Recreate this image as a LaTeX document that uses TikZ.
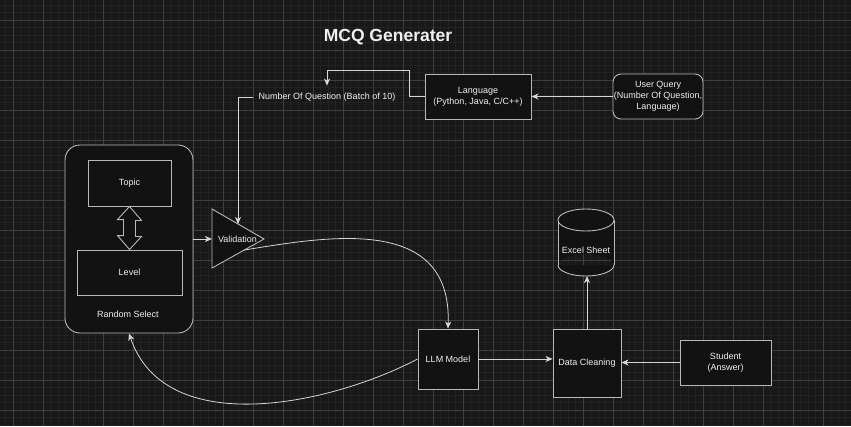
\documentclass[tikz,border=0pt]{standalone}
\usepackage{fontspec}
\setmainfont{Liberation Sans}
\usetikzlibrary{arrows.meta,calc}

\definecolor{mcqCanvas}{RGB}{24,24,24}
\definecolor{mcqGridMinor}{RGB}{34,34,34}
\definecolor{mcqGridMajor}{RGB}{62,62,62}
\definecolor{mcqFill}{RGB}{18,18,18}
\definecolor{mcqBorder}{RGB}{185,185,185}
\definecolor{mcqStroke}{RGB}{215,215,215}
\definecolor{mcqText}{RGB}{240,240,240}

\begin{document}
\begin{tikzpicture}[x=1pt,y=-1pt,
      box/.style={draw=mcqBorder, fill=mcqFill, line width=.9pt, align=center,
        font=\fontsize{9}{11}\selectfont, text=mcqText, inner sep=1pt},
      txt/.style={font=\fontsize{9}{11}\selectfont, text=mcqText, align=center},
      heading/.style={font=\fontsize{17.5}{20}\selectfont\bfseries, text=mcqText},
      link/.style={draw=mcqStroke, line width=.8pt,
        -{Stealth[length=7pt,width=6pt,inset=2pt]}},
      outline/.style={draw=mcqBorder, line width=.9pt},
      gridminor/.style={draw=mcqGridMinor, line width=.5pt},
      gridmajor/.style={draw=mcqGridMajor, line width=.6pt}]
      \useasboundingbox (0,0) rectangle (851,426);
      \fill[mcqCanvas] (0,0) rectangle (851,426);

      % canvas grid
      \foreach \i in {0,...,112}{
        \draw[gridminor] ({5.5+7.5*\i},0) -- ++(0,426);}
      \foreach \i in {0,...,56}{
        \draw[gridminor] (0,{5+7.5*\i}) -- ++(851,0);}
      \foreach \i in {0,...,27}{
        \draw[gridmajor] ({13+30*\i},0) -- ++(0,426);}
      \foreach \i in {0,...,13}{
        \draw[gridmajor] (0,{20+30*\i}) -- ++(851,0);}

      \node[heading] (title) at (388,37) {MCQ Generater};

      % query side
      \node[box, minimum width=106, minimum height=45] (lang) at (478,96.5)
        {Language\\(Python, Java, C/C++)};
      \node[box, rounded corners=8, minimum width=90, minimum height=45]
        (user) at (658,96.5) {User Query\\(Number Of Question,\\Language)};
      \node[txt, inner xsep=6pt, inner ysep=7pt] (numq) at (327,97)
        {Number Of Question (Batch of 10)};

      % random select group
      \node[box, rounded corners=15, minimum width=128, minimum height=188]
        (rand) at (129,239) {};
      \node[box, minimum width=83, minimum height=46] (topic) at (129.5,183) {Topic};
      \node[box, minimum width=105, minimum height=45] (level) at (129.5,272.5) {Level};
      \node[txt] (randcap) at (128,314) {Random Select};
      \path[outline, fill=mcqFill, line join=miter]
        (topic.south) -- ++(12,14) -- ++(-6,0) -- ++(0,16) -- ++(6,0)
        -- (level.north) -- ++(-12,-14) -- ++(6,0) -- ++(0,-16) -- ++(-6,0) -- cycle;

      % validation
      \coordinate (valTop) at (212,209);
      \coordinate (valBot) at (212,268);
      \coordinate (valApex) at (264,239);
      \coordinate (valLeft) at (212,239);
      \coordinate (valIn) at ($(valTop)!.5!(valApex)$);
      \coordinate (valOut) at ($(valBot)!.62!(valApex)$);
      \path[outline, fill=mcqFill] (valTop) -- (valApex) -- (valBot) -- cycle;
      \node[txt] (valid) at (237.5,239) {Validation};

      % model and output
      \node[box, minimum width=60, minimum height=60] (llm) at (448,359) {LLM Model};
      \node[box, minimum width=68, minimum height=68] (clean) at (587,363) {Data Cleaning};
      \node[box, minimum width=91, minimum height=45] (student) at (725.5,362.5)
        {Student\\(Answer)};
      \fill[mcqFill] (558,220) rectangle (614,265)
        (586,265) ellipse [x radius=28, y radius=11];
      \draw[outline] (558,220) -- (558,265) (614,220) -- (614,265);
      \draw[outline] (558,265) arc[start angle=180, end angle=0,
        x radius=28, y radius=11];
      \path[outline, fill=mcqFill] (586,220) ellipse [x radius=28, y radius=11];
      \node[txt] (excel) at (586,250) {Excel Sheet};
      \coordinate (excelBot) at (586,276);

      % connectors
      \draw[link] (user.west) -- (lang.east);
      \draw[link] (lang.west) -- ++(-15,0) |- ($(numq.north)+(0,-15)$) -- (numq.north);
      \draw[link] (numq.west) -| (valIn);
      \draw[link] (rand.east) -- (valLeft);
      \draw[link] (valOut) .. controls (330,236) and (452,215) .. (llm.north);
      \draw[link] (llm.east) -- (llm.east -| clean.west);
      \draw[link] (student.west) -- (student.west -| clean.east);
      \draw[link] (clean.north) -- (clean.north |- excelBot);
      \draw[link] (llm.west) .. controls (330,405) and (165,440) .. (rand.south);
    \end{tikzpicture}
\end{document}
